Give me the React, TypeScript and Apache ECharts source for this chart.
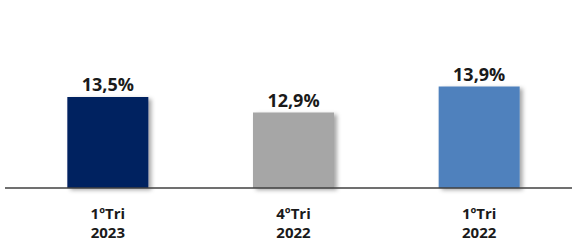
import React, { useEffect, useRef } from "react";
import * as echarts from "echarts";

const categories = ["1ºTri\n2023", "4ºTri\n2022", "1ºTri\n2022"];
const values = [13.5, 12.9, 13.9];
const valueLabels = ["13,5%", "12,9%", "13,9%"];
const barColors = ["#002060", "#A6A6A6", "#4F81BD"];

export default function App() {
  const ref = useRef<HTMLDivElement>(null);
  useEffect(() => {
    if (!ref.current) return;
    const chart = echarts.init(ref.current, null, { renderer: "svg" });
    chart.setOption({
      animation: false,
      backgroundColor: "#ffffff",
      grid: { left: 15, right: -4, top: 32, bottom: 56, containLabel: false },
      xAxis: {
        type: "category",
        data: categories,
        axisLine: { show: false },
        axisTick: { show: false },
        axisLabel: {
          margin: 15,
          fontFamily: "Open Sans",
          fontWeight: "bold",
          fontSize: 15,
          lineHeight: 19,
          color: "#1a1a1a",
        },
      },
      yAxis: {
        type: "value",
        min: 10,
        max: 16,
        show: false,
        splitLine: { show: false },
      },
      graphic: [
        {
          type: "line",
          shape: { x1: 5, y1: 188, x2: 572, y2: 188 },
          style: { stroke: "#404040", lineWidth: 1.5 },
          z: 10,
        },
      ],
      series: [
        {
          type: "bar",
          barWidth: 81,
          data: values.map((v, i) => ({
            value: v,
            itemStyle: {
              color: barColors[i],
              shadowColor: "rgba(0,0,0,0.35)",
              shadowBlur: 4,
              shadowOffsetX: 3,
              shadowOffsetY: 2,
            },
          })),
          label: {
            show: true,
            position: "top",
            distance: 4,
            formatter: (p: any) => valueLabels[p.dataIndex],
            fontFamily: "Open Sans",
            fontWeight: "bold",
            fontSize: 18,
            color: "#1a1a1a",
          },
        },
      ],
    });
    return () => chart.dispose();
  }, []);
  return <div ref={ref} style={{ width: 572, height: 244, position: "absolute", left: 0, top: 0 }} />;
}
